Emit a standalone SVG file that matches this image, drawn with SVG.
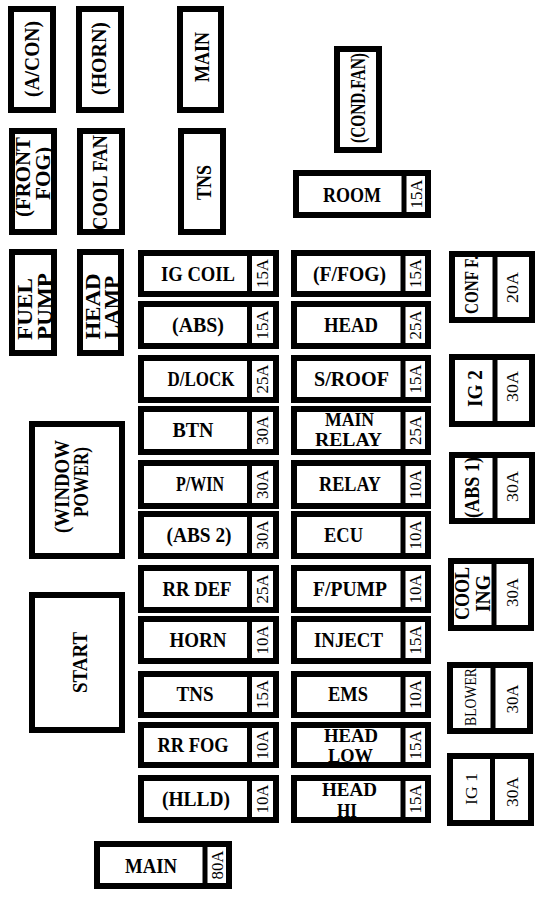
<svg xmlns="http://www.w3.org/2000/svg" width="540" height="898" viewBox="0 0 540 898">
<style>
.b{fill:#fff;stroke:#000;stroke-width:6}
.d{stroke:#000;stroke-width:5}
text{font-family:"Liberation Serif","Times New Roman",serif;fill:#000;text-anchor:middle}
.t{font-weight:bold;font-size:21px}
.s{font-weight:bold;font-size:19px}
.a{font-size:17px}
.r{font-size:17px}
</style>
<rect width="540" height="898" fill="#fff"/>
<g id="connectors"></g>

<!-- top relays -->
<g id="acon"><rect class="b" x="11" y="9" width="42" height="101"/><text class="t" transform="translate(38.5,59) rotate(-90)" textLength="76" lengthAdjust="spacingAndGlyphs">(A/CON)</text></g>
<g id="horn-relay"><rect class="b" x="79" y="9" width="42" height="101"/><text class="t" transform="translate(106,58.5) rotate(-90)" textLength="73" lengthAdjust="spacingAndGlyphs">(HORN)</text></g>
<g id="main-relay-top"><rect class="b" x="180" y="9" width="41" height="101"/><text class="t" transform="translate(209,57) rotate(-90)" textLength="50" lengthAdjust="spacingAndGlyphs">MAIN</text></g>
<g id="front-fog"><rect class="b" x="12" y="131" width="42" height="101"/><text class="t" transform="translate(30,177) rotate(-90)" textLength="80" lengthAdjust="spacingAndGlyphs">(FRONT</text><text class="t" transform="translate(50,173.5) rotate(-90)" textLength="53" lengthAdjust="spacingAndGlyphs">FOG)</text></g>
<g id="cool-fan"><rect class="b" x="80" y="131" width="42" height="101"/><text class="t" transform="translate(107,182.5) rotate(-90)" textLength="95" lengthAdjust="spacingAndGlyphs">COOL FAN</text></g>
<g id="tns-relay"><rect class="b" x="181" y="131" width="42" height="101"/><text class="t" transform="translate(211,182.5) rotate(-90)" textLength="35" lengthAdjust="spacingAndGlyphs">TNS</text></g>
<g id="cond-fan"><rect class="b" x="337" y="49" width="42" height="101"/><text class="t" transform="translate(364.5,98) rotate(-90)" textLength="90" lengthAdjust="spacingAndGlyphs">(COND.FAN)</text></g>
<g id="room"><rect class="b" x="296" y="173" width="132" height="42"/><line class="d" x1="404" y1="173" x2="404" y2="215"/><text class="t" x="352" y="202" textLength="58" lengthAdjust="spacingAndGlyphs">ROOM</text><text class="a" transform="translate(422,194) rotate(-90)" textLength="29" lengthAdjust="spacingAndGlyphs">15A</text></g>
<g id="fuel-pump"><rect class="b" x="12" y="252" width="42" height="101"/><text class="t" transform="translate(32,309) rotate(-90)" textLength="62" lengthAdjust="spacingAndGlyphs">FUEL</text><text class="t" transform="translate(52,306.5) rotate(-90)" textLength="67" lengthAdjust="spacingAndGlyphs">PUMP</text></g>
<g id="head-lamp"><rect class="b" x="80" y="252" width="41" height="101"/><text class="t" transform="translate(100,306.5) rotate(-90)" textLength="66" lengthAdjust="spacingAndGlyphs">HEAD</text><text class="t" transform="translate(119,307.5) rotate(-90)" textLength="63" lengthAdjust="spacingAndGlyphs">LAMP</text></g>
<g id="window-power"><rect class="b" x="32" y="424" width="90" height="132"/><text class="t" transform="translate(68.5,486.5) rotate(-90)" textLength="93" lengthAdjust="spacingAndGlyphs">(WINDOW</text><text class="t" transform="translate(88,482) rotate(-90)" textLength="70" lengthAdjust="spacingAndGlyphs">POWER)</text></g>
<g id="start"><rect class="b" x="32" y="595" width="90" height="135"/><text class="t" transform="translate(87,662.5) rotate(-90)" textLength="61" lengthAdjust="spacingAndGlyphs">START</text></g>
<g id="main-80a"><rect class="b" x="97" y="844" width="132" height="42"/><line class="d" x1="205" y1="844" x2="205" y2="886"/><text class="t" x="151" y="873" textLength="52" lengthAdjust="spacingAndGlyphs">MAIN</text><text class="a" transform="translate(223,865) rotate(-90)" textLength="29" lengthAdjust="spacingAndGlyphs">80A</text></g>

<!-- left fuse column -->
<g id="ig-coil"><rect class="b" x="141" y="253" width="135" height="41"/><line class="d" x1="249.5" y1="253" x2="249.5" y2="294"/><text class="t" x="198" y="281" textLength="74" lengthAdjust="spacingAndGlyphs">IG COIL</text><text class="a" transform="translate(268,273.5) rotate(-90)" textLength="29" lengthAdjust="spacingAndGlyphs">15A</text></g>
<g id="abs"><rect class="b" x="141" y="304" width="135" height="42"/><line class="d" x1="249.5" y1="304" x2="249.5" y2="346"/><text class="t" x="198" y="332" textLength="52" lengthAdjust="spacingAndGlyphs">(ABS)</text><text class="a" transform="translate(268,325) rotate(-90)" textLength="29" lengthAdjust="spacingAndGlyphs">15A</text></g>
<g id="d-lock"><rect class="b" x="141" y="358" width="135" height="42"/><line class="d" x1="249.5" y1="358" x2="249.5" y2="400"/><text class="t" x="201" y="386" textLength="67" lengthAdjust="spacingAndGlyphs">D/LOCK</text><text class="a" transform="translate(268,379) rotate(-90)" textLength="29" lengthAdjust="spacingAndGlyphs">25A</text></g>
<g id="btn"><rect class="b" x="141" y="409" width="135" height="43"/><line class="d" x1="249.5" y1="409" x2="249.5" y2="452"/><text class="t" x="193" y="437" textLength="41" lengthAdjust="spacingAndGlyphs">BTN</text><text class="a" transform="translate(268,430.5) rotate(-90)" textLength="29" lengthAdjust="spacingAndGlyphs">30A</text></g>
<g id="p-win"><rect class="b" x="141" y="463" width="135" height="43"/><line class="d" x1="249.5" y1="463" x2="249.5" y2="506"/><text class="t" x="200" y="491" textLength="48" lengthAdjust="spacingAndGlyphs">P/WIN</text><text class="a" transform="translate(268,484.5) rotate(-90)" textLength="29" lengthAdjust="spacingAndGlyphs">30A</text></g>
<g id="abs-2"><rect class="b" x="141" y="514" width="135" height="42"/><line class="d" x1="249.5" y1="514" x2="249.5" y2="556"/><text class="t" x="199" y="542" textLength="65" lengthAdjust="spacingAndGlyphs">(ABS 2)</text><text class="a" transform="translate(268,535) rotate(-90)" textLength="29" lengthAdjust="spacingAndGlyphs">30A</text></g>
<g id="rr-def"><rect class="b" x="141" y="568" width="135" height="42"/><line class="d" x1="249.5" y1="568" x2="249.5" y2="610"/><text class="t" x="197" y="596" textLength="69" lengthAdjust="spacingAndGlyphs">RR DEF</text><text class="a" transform="translate(268,589) rotate(-90)" textLength="29" lengthAdjust="spacingAndGlyphs">25A</text></g>
<g id="horn"><rect class="b" x="141" y="619" width="135" height="42"/><line class="d" x1="249.5" y1="619" x2="249.5" y2="661"/><text class="t" x="198" y="647" textLength="57" lengthAdjust="spacingAndGlyphs">HORN</text><text class="a" transform="translate(268,640) rotate(-90)" textLength="29" lengthAdjust="spacingAndGlyphs">10A</text></g>
<g id="tns"><rect class="b" x="141" y="674" width="135" height="41"/><line class="d" x1="249.5" y1="674" x2="249.5" y2="715"/><text class="t" x="195" y="701" textLength="37" lengthAdjust="spacingAndGlyphs">TNS</text><text class="a" transform="translate(268,694.5) rotate(-90)" textLength="29" lengthAdjust="spacingAndGlyphs">15A</text></g>
<g id="rr-fog"><rect class="b" x="141" y="725" width="135" height="40"/><line class="d" x1="249.5" y1="725" x2="249.5" y2="765"/><text class="t" x="193" y="752" textLength="71" lengthAdjust="spacingAndGlyphs">RR FOG</text><text class="a" transform="translate(268,745) rotate(-90)" textLength="29" lengthAdjust="spacingAndGlyphs">10A</text></g>
<g id="hlld"><rect class="b" x="141" y="778" width="135" height="42"/><line class="d" x1="249.5" y1="778" x2="249.5" y2="820"/><text class="t" x="196" y="806" textLength="68" lengthAdjust="spacingAndGlyphs">(HLLD)</text><text class="a" transform="translate(268,799) rotate(-90)" textLength="29" lengthAdjust="spacingAndGlyphs">10A</text></g>

<!-- middle fuse column -->
<g id="f-fog"><rect class="b" x="294" y="253" width="134" height="41"/><line class="d" x1="403" y1="253" x2="403" y2="294"/><text class="t" x="349.5" y="281" textLength="73" lengthAdjust="spacingAndGlyphs">(F/FOG)</text><text class="a" transform="translate(421,273.5) rotate(-90)" textLength="29" lengthAdjust="spacingAndGlyphs">15A</text></g>
<g id="head"><rect class="b" x="294" y="304" width="134" height="42"/><line class="d" x1="403" y1="304" x2="403" y2="346"/><text class="t" x="351" y="332" textLength="54" lengthAdjust="spacingAndGlyphs">HEAD</text><text class="a" transform="translate(421,325) rotate(-90)" textLength="29" lengthAdjust="spacingAndGlyphs">25A</text></g>
<g id="s-roof"><rect class="b" x="294" y="358" width="134" height="42"/><line class="d" x1="403" y1="358" x2="403" y2="400"/><text class="t" x="351.5" y="386" textLength="75" lengthAdjust="spacingAndGlyphs">S/ROOF</text><text class="a" transform="translate(421,379) rotate(-90)" textLength="29" lengthAdjust="spacingAndGlyphs">15A</text></g>
<g id="main-relay"><rect class="b" x="294" y="409" width="134" height="43"/><line class="d" x1="403" y1="409" x2="403" y2="452"/><text class="s" x="349.5" y="426" textLength="49" lengthAdjust="spacingAndGlyphs">MAIN</text><text class="s" x="348.5" y="446" textLength="67" lengthAdjust="spacingAndGlyphs">RELAY</text><text class="a" transform="translate(421,430.5) rotate(-90)" textLength="29" lengthAdjust="spacingAndGlyphs">25A</text></g>
<g id="relay"><rect class="b" x="294" y="463" width="134" height="43"/><line class="d" x1="403" y1="463" x2="403" y2="506"/><text class="t" x="350" y="491" textLength="62" lengthAdjust="spacingAndGlyphs">RELAY</text><text class="a" transform="translate(421,484.5) rotate(-90)" textLength="29" lengthAdjust="spacingAndGlyphs">10A</text></g>
<g id="ecu"><rect class="b" x="294" y="514" width="134" height="42"/><line class="d" x1="403" y1="514" x2="403" y2="556"/><text class="t" x="343.5" y="542" textLength="39" lengthAdjust="spacingAndGlyphs">ECU</text><text class="a" transform="translate(421,535) rotate(-90)" textLength="29" lengthAdjust="spacingAndGlyphs">10A</text></g>
<g id="f-pump"><rect class="b" x="294" y="568" width="134" height="42"/><line class="d" x1="403" y1="568" x2="403" y2="610"/><text class="t" x="350" y="596" textLength="74" lengthAdjust="spacingAndGlyphs">F/PUMP</text><text class="a" transform="translate(421,589) rotate(-90)" textLength="29" lengthAdjust="spacingAndGlyphs">10A</text></g>
<g id="inject"><rect class="b" x="294" y="619" width="134" height="42"/><line class="d" x1="403" y1="619" x2="403" y2="661"/><text class="t" x="348.5" y="647" textLength="69" lengthAdjust="spacingAndGlyphs">INJECT</text><text class="a" transform="translate(421,640) rotate(-90)" textLength="29" lengthAdjust="spacingAndGlyphs">15A</text></g>
<g id="ems"><rect class="b" x="294" y="674" width="134" height="41"/><line class="d" x1="403" y1="674" x2="403" y2="715"/><text class="t" x="348" y="701" textLength="40" lengthAdjust="spacingAndGlyphs">EMS</text><text class="a" transform="translate(421,694.5) rotate(-90)" textLength="29" lengthAdjust="spacingAndGlyphs">10A</text></g>
<g id="head-low"><rect class="b" x="294" y="725" width="134" height="40"/><line class="d" x1="403" y1="725" x2="403" y2="765"/><text class="s" x="351" y="742" textLength="54" lengthAdjust="spacingAndGlyphs">HEAD</text><text class="s" x="350.5" y="762" textLength="45" lengthAdjust="spacingAndGlyphs">LOW</text><text class="a" transform="translate(421,745) rotate(-90)" textLength="29" lengthAdjust="spacingAndGlyphs">15A</text></g>
<g id="head-hi"><rect class="b" x="294" y="778" width="134" height="42"/><line class="d" x1="403" y1="778" x2="403" y2="820"/><text class="s" x="349.5" y="796" textLength="55" lengthAdjust="spacingAndGlyphs">HEAD</text><text class="s" x="347" y="817" textLength="20" lengthAdjust="spacingAndGlyphs">HI</text><text class="a" transform="translate(421,799) rotate(-90)" textLength="29" lengthAdjust="spacingAndGlyphs">15A</text></g>

<!-- right column -->
<g id="conf-f"><rect class="b" x="452" y="254" width="80" height="66"/><line class="d" x1="495" y1="254" x2="495" y2="320"/><text class="s" transform="translate(478,285) rotate(-90)" textLength="58" lengthAdjust="spacingAndGlyphs">CONF F.</text><text class="a" transform="translate(517.5,287.5) rotate(-90)" textLength="31" lengthAdjust="spacingAndGlyphs">20A</text></g>
<g id="ig-2"><rect class="b" x="452" y="357" width="80" height="67"/><line class="d" x1="495" y1="357" x2="495" y2="424"/><text class="t" transform="translate(482,388.5) rotate(-90)" textLength="37" lengthAdjust="spacingAndGlyphs">IG 2</text><text class="a" transform="translate(517.5,386.5) rotate(-90)" textLength="31" lengthAdjust="spacingAndGlyphs">30A</text></g>
<g id="abs-1"><rect class="b" x="452" y="455" width="80" height="66"/><line class="d" x1="495" y1="455" x2="495" y2="521"/><text class="t" transform="translate(479,487.5) rotate(-90)" textLength="61" lengthAdjust="spacingAndGlyphs">(ABS 1)</text><text class="a" transform="translate(517.5,486.5) rotate(-90)" textLength="31" lengthAdjust="spacingAndGlyphs">30A</text></g>
<g id="cooling"><rect class="b" x="451" y="561" width="80" height="67"/><line class="d" x1="494" y1="561" x2="494" y2="628"/><text class="t" transform="translate(468.5,593.5) rotate(-90)" textLength="53" lengthAdjust="spacingAndGlyphs">COOL</text><text class="t" transform="translate(490,593.5) rotate(-90)" textLength="37" lengthAdjust="spacingAndGlyphs">ING</text><text class="a" transform="translate(518,592.5) rotate(-90)" textLength="29" lengthAdjust="spacingAndGlyphs">30A</text></g>
<g id="blower"><rect class="b" x="450" y="665" width="80" height="66"/><line class="d" x1="493" y1="665" x2="493" y2="731"/><text class="r" transform="translate(476,697) rotate(-90)" textLength="58" lengthAdjust="spacingAndGlyphs">BLOWER</text><text class="a" transform="translate(518,699) rotate(-90)" textLength="29" lengthAdjust="spacingAndGlyphs">30A</text></g>
<g id="ig-1"><rect class="b" x="450" y="756" width="81" height="67"/><line class="d" x1="492.5" y1="756" x2="492.5" y2="823"/><text class="r" transform="translate(477,789) rotate(-90)" textLength="32" lengthAdjust="spacingAndGlyphs">IG 1</text><text class="a" transform="translate(518,792) rotate(-90)" textLength="30" lengthAdjust="spacingAndGlyphs">30A</text></g>
</svg>
